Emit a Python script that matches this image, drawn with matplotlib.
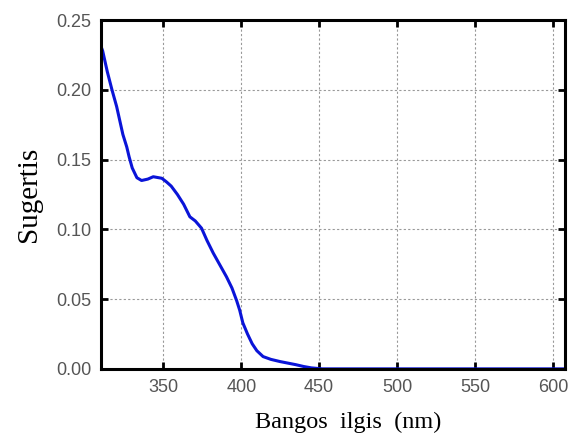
import numpy as np
import matplotlib.pyplot as plt

longitud = [310, 311, 314, 317, 320, 322, 324, 326.5, 328, 330, 333, 336, 340, 343.5,
            347, 349, 352, 355, 359, 363, 367, 370.5, 374.5, 378, 382, 386, 390.5,
            394, 397, 399, 401, 404, 407, 410, 414, 419, 425, 430, 435, 440, 445,
            452, 470, 520, 560, 600, 608]
sugertis = [0.231, 0.228, 0.213, 0.200, 0.188, 0.178, 0.168, 0.159, 0.152, 0.144,
            0.137, 0.135, 0.136, 0.1377, 0.137, 0.1366, 0.134, 0.131, 0.125, 0.118,
            0.109, 0.106, 0.1008, 0.092, 0.083, 0.075, 0.066, 0.058, 0.049, 0.042,
            0.033, 0.025, 0.018, 0.013, 0.0088, 0.0068, 0.0052, 0.0041, 0.003,
            0.0017, 0.0007, 0.0, 0.0, 0.0, 0.0, 0.0, 0.0]

x_ticks = [350, 400, 450, 500, 550, 600]
y_ticks = [0.00, 0.05, 0.10, 0.15, 0.20, 0.25]

fig = plt.figure(figsize=(5.71, 4.36), dpi=100)
ax = fig.add_axes([0.177, 0.154, 0.813, 0.8])

ax.plot(longitud, sugertis, color='#0a14d8', linewidth=2.2)

ax.set_xlim(310, 608)
ax.set_ylim(0, 0.25)
ax.set_xticks(x_ticks)
ax.set_yticks(y_ticks)
ax.set_yticklabels([f'{v:.2f}' for v in y_ticks])

ax.grid(True, color='#999999', linestyle=(0, (2, 2)), linewidth=0.8)
for s in ax.spines.values():
    s.set_linewidth(2.2)
    s.set_color('black')
ax.tick_params(direction='in', length=5, width=2, top=True, right=True,
               labelsize=13, labelcolor='#555555', pad=7)
for lab in ax.get_xticklabels() + ax.get_yticklabels():
    lab.set_family('Liberation Sans')

ax.set_xlabel('Bangos  ilgis  (nm)', family='Liberation Serif', fontsize=17.5)
ax.xaxis.set_label_coords(0.532, -0.122)
ax.xaxis.label.set_va('top')
ax.set_ylabel('Sugertis', family='Liberation Serif', fontsize=21, labelpad=10)

fig.savefig('out.png', dpi=100)
